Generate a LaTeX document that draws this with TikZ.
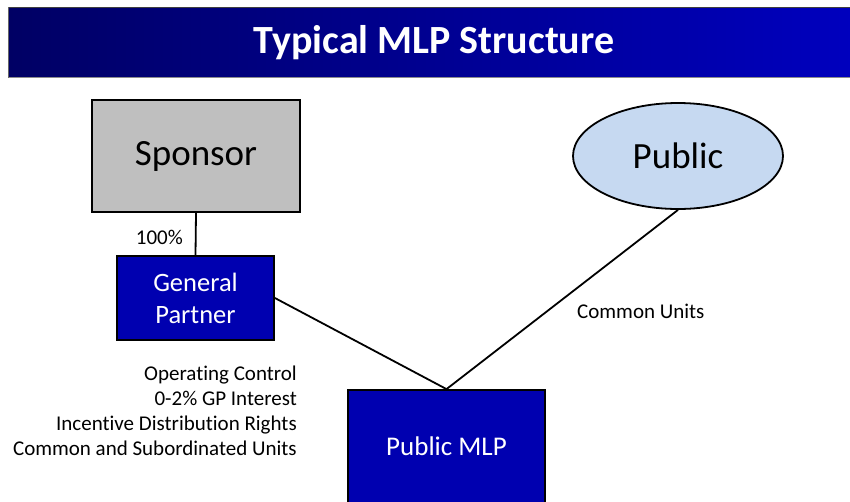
\documentclass[tikz,border=0pt]{standalone}
\usepackage{fontspec}
\setmainfont{Carlito}[Ligatures=NoCommon]
\usetikzlibrary{shapes.geometric}
\definecolor{navyL}{RGB}{0,0,100}
\definecolor{navyR}{RGB}{0,0,190}
\definecolor{boxblue}{RGB}{0,0,176}
\definecolor{sponsgray}{RGB}{191,191,191}
\definecolor{publicblue}{RGB}{198,217,241}
\tikzset{
  bigbox/.style={draw=black, line width=1.8pt, inner sep=0pt},
  conn/.style={draw=black, line width=1.8pt},
  lbl/.style={font=\fontsize{21}{25}\selectfont, inner sep=0pt}
}
\begin{document}
\begin{tikzpicture}[x=1pt,y=-1pt]
\useasboundingbox (0,0) rectangle (850,501);
\fill[white] (0,0) rectangle (850,501);
% title bar
\shade[left color=navyL, right color=navyR] (8,7) rectangle (852,77);
\draw[black!75, line width=1pt] (8,7) -- (852,7);
\draw[black!45, line width=1.5pt] (8,77.5) -- (852,77.5);
\draw[black!60, line width=1pt] (8,7) -- (8,77.5);
\node[font=\fontsize{40}{44}\selectfont\bfseries, text=white] (title) at (434,43) {Typical MLP Structure};
% nodes
\node[bigbox, fill=sponsgray, minimum width=208pt, minimum height=112pt, font=\fontsize{37}{40}\selectfont] (sp) at (196,156) {Sponsor};
\node[bigbox, fill=boxblue, text=white, minimum width=157pt, minimum height=84pt, align=center, font=\fontsize{26.5}{32}\selectfont] (gp) at (195.5,298) {General\\Partner};
\node[ellipse, draw=black, line width=1.8pt, fill=publicblue, minimum width=210pt, minimum height=106pt, inner sep=0pt, font=\fontsize{37}{40}\selectfont] (pub) at (678,156) {Public};
\node[bigbox, fill=boxblue, minimum width=197pt, minimum height=130pt] (mlp) at (446.5,455) {};
\node[text=white, font=\fontsize{27}{30}\selectfont] (mlpt) at (446.5,446) {Public MLP};
% connectors
\draw[conn] (sp.south) -- (gp.north);
\draw[conn] (gp.east) -- (mlp.north);
\draw[conn] (pub.south) -- (mlp.north);
% labels
\node[lbl, anchor=east] (pct) at (183,237) {100\%};
\node[lbl, anchor=west] (cu) at (577,311) {Common Units};
\node[lbl, anchor=north east, align=right] (gpl) at (297,366) {Operating Control\\0-2\% GP Interest\\Incentive Distribution Rights\\Common and Subordinated Units};
\end{tikzpicture}
\end{document}
